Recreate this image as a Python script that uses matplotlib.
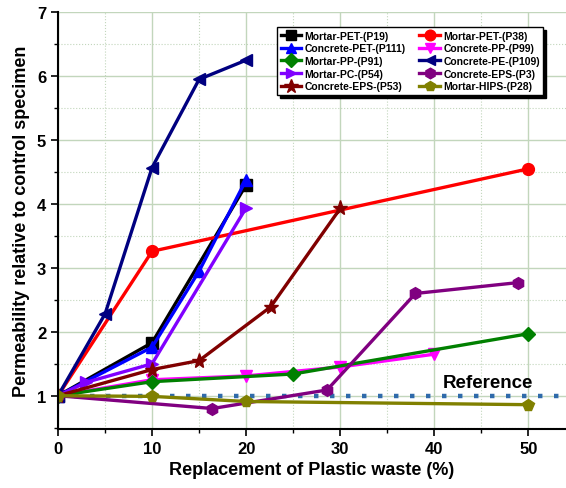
import matplotlib
matplotlib.use("Agg")
import matplotlib.pyplot as plt
from matplotlib.ticker import MultipleLocator

plt.rcParams['font.family'] = ['Liberation Sans', 'DejaVu Sans']
plt.rcParams['font.weight'] = 'bold'

# Data
labels = ["Mortar-PET-(P19)", "Mortar-PET-(P38)",
          "Concrete-PET-(P111)", "Concrete-PP-(P99)",
          "Mortar-PP-(P91)", "Concrete-PE-(P109)",
          "Mortar-PC-(P54)", "Concrete-EPS-(P3)",
          "Concrete-EPS-(P53)", "Mortar-HIPS-(P28)"]

x_p19 = [0, 10, 20];            y_p19 = [1.0, 1.83, 4.3]
x_p38 = [0, 10, 50];            y_p38 = [1.0, 3.26, 4.55]
x_p111 = [0, 10, 15, 20];       y_p111 = [1.0, 1.76, 2.95, 4.38]
x_p99 = [0, 10, 20, 30, 40];    y_p99 = [1.0, 1.25, 1.31, 1.45, 1.65]
x_p91 = [0, 10, 25, 50];        y_p91 = [1.0, 1.22, 1.34, 1.97]
x_p109 = [0, 5, 10, 15, 20];    y_p109 = [1.0, 2.28, 4.57, 5.95, 6.25]
x_p54 = [0, 3, 10, 20];         y_p54 = [1.0, 1.21, 1.5, 3.94]
x_p3 = [0, 16.4, 28.6, 38, 48.9]; y_p3 = [1.0, 0.8, 1.09, 2.6, 2.77]
x_p53 = [0, 10, 15, 22.6, 30];  y_p53 = [1.0, 1.41, 1.55, 2.39, 3.93]
x_p28 = [0, 10, 20, 50];        y_p28 = [1.0, 0.99, 0.91, 0.86]

ref_x = [0, 54]
ref_y = [1.0, 1.0]

series = [
    (x_p19, y_p19, '#000000', 's'),
    (x_p38, y_p38, '#FF0000', 'o'),
    (x_p111, y_p111, '#0000FF', '^'),
    (x_p99, y_p99, '#FF00FF', 'v'),
    (x_p91, y_p91, '#008000', 'D'),
    (x_p109, y_p109, '#000080', '<'),
    (x_p54, y_p54, '#8000FF', '>'),
    (x_p3, y_p3, '#800080', 'h'),
    (x_p53, y_p53, '#800000', '*'),
    (x_p28, y_p28, '#808000', 'p'),
]

fig = plt.figure(figsize=(5.66, 4.89), dpi=100)
ax = fig.add_axes([0.1025, 0.1207, 0.8975, 0.8523])

# grid
ax.xaxis.set_major_locator(MultipleLocator(10))
ax.xaxis.set_minor_locator(MultipleLocator(5))
ax.yaxis.set_major_locator(MultipleLocator(1))
ax.yaxis.set_minor_locator(MultipleLocator(0.5))
ax.grid(which='major', color='#c2d6bc', lw=1.0, ls='-')
ax.grid(which='minor', color='#c2d6bc', lw=0.8, ls=':')
ax.set_axisbelow(True)

ax.plot(ref_x, ref_y, color='#2f6aaa', lw=3.2, ls=(0, (1, 2.6)), zorder=1.5)

handles = []
for (xs, ys, c, m), lab in zip(series, labels):
    ms = 11 if m == '*' else 8.5
    if m == 'D':
        ms = 7.5
    h, = ax.plot(xs, ys, color=c, marker=m, ms=ms, lw=2.4, label=lab,
                 markeredgecolor=c)
    handles.append(h)

ax.text(45.7, 1.07, "Reference", fontsize=13.5, fontweight='bold',
        ha='center', va='bottom')

ax.set_xlim(0, 54)
ax.set_ylim(0.48, 7)
ax.set_xticks([0, 10, 20, 30, 40, 50])
ax.set_yticks([1, 2, 3, 4, 5, 6, 7])
ax.tick_params(which='major', direction='out', length=5, width=1.2,
               labelsize=12)
ax.tick_params(which='minor', direction='out', length=3, width=1.0)
for lab in ax.get_xticklabels() + ax.get_yticklabels():
    lab.set_fontweight('bold')
ax.spines['top'].set_visible(False)
ax.spines['right'].set_visible(False)
ax.spines['left'].set_linewidth(1.5)
ax.spines['bottom'].set_linewidth(1.5)

ax.set_xlabel("Replacement of Plastic waste (%)", fontsize=13,
              fontweight='bold', labelpad=4)
ax.set_ylabel("Permeability relative to control specimen", fontsize=13,
              fontweight='bold', labelpad=5)

order = [0, 2, 4, 6, 8, 1, 3, 5, 7, 9]
leg = ax.legend([handles[i] for i in order], [labels[i] for i in order],
                ncol=2, loc='upper left', bbox_to_anchor=(0.431, 0.964),
                borderaxespad=0,
                fontsize=7.5, frameon=True, fancybox=False,
                shadow={'color': 'black', 'alpha': 1.0},
                edgecolor='black', handlelength=2.0, handletextpad=0.3,
                columnspacing=1.3, labelspacing=0.25, borderpad=0.35,
                markerscale=0.9)
leg.get_frame().set_linewidth(1.0)
for t in leg.get_texts():
    t.set_fontweight('bold')

fig.savefig("out.png", dpi=100)
